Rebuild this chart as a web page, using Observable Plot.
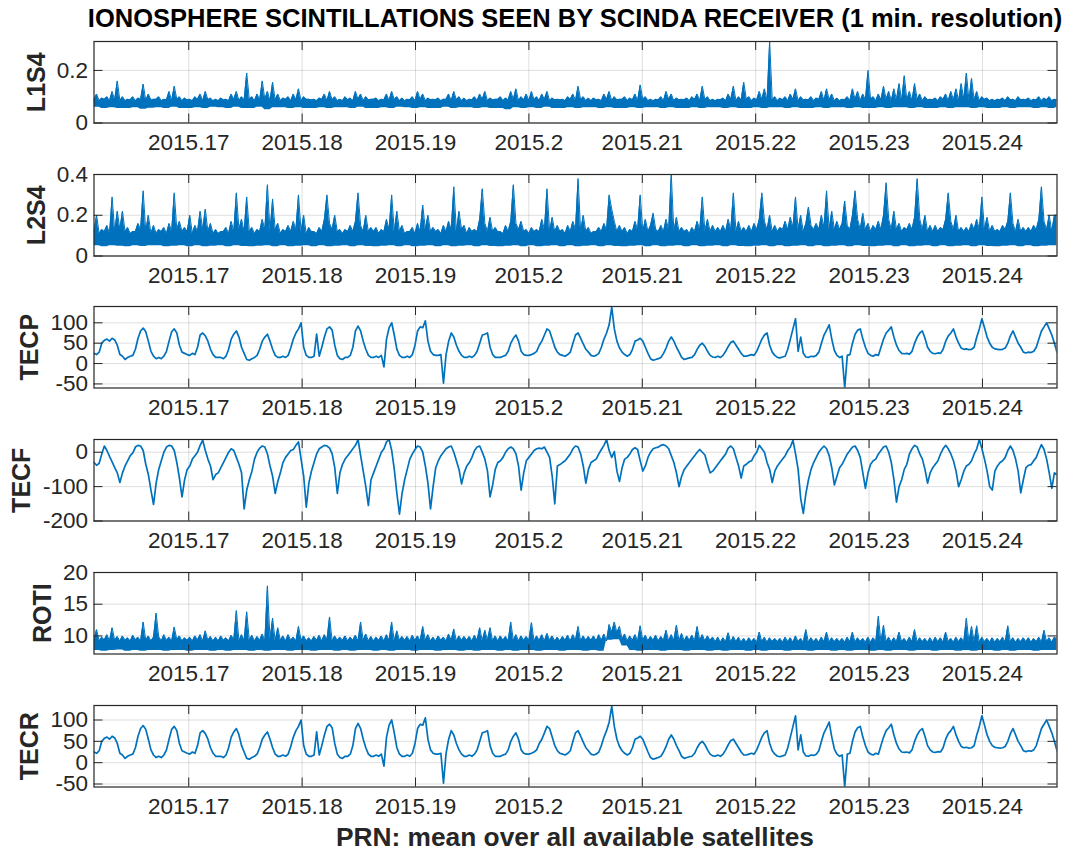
<!DOCTYPE html>
<html>
<head>
<meta charset="utf-8">
<script src="https://cdn.jsdelivr.net/npm/d3@7"></script>
<script src="https://cdn.jsdelivr.net/npm/@observablehq/plot@0.6"></script>
<style>
  html, body { margin: 0; padding: 0; background: #fff; }
  #fig { position: relative; width: 1085px; height: 853px; overflow: hidden; background: #fff;
         font-family: "Liberation Sans", Arial, Helvetica, sans-serif; color: #262626; }
  .ttl { position: absolute; left: 0; width: 1150px; text-align: center; font-weight: bold;
         font-size: 25.5px; line-height: 30px; white-space: nowrap; }
  .panel { position: absolute; left: 0; }
</style>
</head>
<body>
<div id="fig"></div>
<script>
// ---------------- data (March 2015) ----------------
// upper envelopes and TEC series: one value per 2 hours (12 per day)
// lower envelopes of the noisy series: one value per 6 hours (4 per day)
const startYear = 2015 + 59 / 365;      // 1 March 2015
const endYear = 2015 + 90 / 365;        // 1 April 2015
const sampleStep = (2 / 24) / 365;      // 2 hours in years

const xTicks = [2015.17, 2015.18, 2015.19, 2015.2, 2015.21, 2015.22, 2015.23, 2015.24];
const xTickLabels = ["2015.17", "2015.18", "2015.19", "2015.2", "2015.21", "2015.22", "2015.23", "2015.24"];

const l1s4Ticks = [0, 0.2];
const l2s4Ticks = [0, 0.2, 0.4];
const tecpTicks = [-50, 0, 50, 100];
const tecfTicks = [-200, -100, 0];
const rotiTicks = [10, 15, 20];
const tecrTicks = [-50, 0, 50, 100];

const l1s4Max = [
.088,.11,.085,.095,.09,.1,.085,.12,.088,.16,.085,.1,
.085,.09,.088,.1,.085,.095,.09,.148,.085,.11,.088,.09,
.09,.1,.085,.09,.088,.12,.085,.14,.09,.1,.085,.095,
.088,.09,.085,.1,.09,.11,.085,.12,.088,.095,.085,.09,
.085,.095,.088,.09,.085,.11,.09,.12,.085,.1,.088,.19,
.09,.1,.085,.11,.088,.16,.09,.12,.085,.155,.088,.11,
.085,.095,.09,.1,.085,.11,.088,.13,.085,.1,.09,.09,
.088,.09,.085,.095,.09,.11,.085,.12,.088,.1,.085,.09,
.085,.1,.088,.095,.085,.12,.09,.11,.085,.1,.088,.09,
.09,.095,.085,.09,.088,.11,.085,.12,.09,.1,.085,.095,
.085,.09,.088,.1,.085,.12,.09,.11,.085,.095,.088,.09,
.088,.095,.085,.09,.09,.11,.085,.12,.088,.1,.085,.095,
.085,.09,.088,.1,.085,.11,.09,.12,.085,.095,.088,.09,
.09,.1,.085,.095,.088,.12,.09,.13,.085,.1,.088,.11,
.085,.12,.088,.1,.085,.11,.09,.12,.085,.095,.088,.09,
.088,.09,.085,.1,.09,.11,.085,.14,.088,.1,.085,.095,
.085,.095,.088,.09,.085,.11,.09,.12,.085,.1,.088,.09,
.09,.1,.085,.095,.088,.11,.085,.145,.09,.1,.085,.09,
.085,.09,.088,.1,.085,.12,.09,.11,.085,.095,.088,.09,
.088,.095,.085,.1,.09,.11,.085,.14,.088,.1,.085,.09,
.085,.09,.088,.095,.085,.11,.09,.14,.085,.1,.088,.155,
.09,.1,.085,.095,.088,.12,.09,.13,.085,.31,.088,.1,
.085,.095,.088,.1,.085,.11,.09,.13,.085,.1,.088,.09,
.088,.1,.085,.095,.09,.12,.085,.13,.088,.11,.085,.095,
.085,.09,.088,.1,.085,.13,.09,.12,.085,.11,.088,.2,
.09,.1,.085,.11,.088,.14,.09,.12,.085,.13,.088,.15,
.085,.18,.088,.12,.085,.15,.09,.11,.085,.1,.088,.09,
.088,.095,.085,.1,.09,.11,.085,.12,.088,.13,.085,.15,
.09,.19,.085,.17,.088,.12,.085,.1,.09,.095,.085,.09,
.085,.09,.088,.095,.085,.1,.088,.09,.085,.1,.088,.09,
.088,.095,.085,.09,.088,.1,.085,.095,.088,.1,.085,.09,
.088];
const l1s4Min = [
.06,.055,.058,.055, .055,.058,.052,.056, .058,.055,.06,.055, .055,.058,.055,.06,
.058,.055,.06,.055, .055,.06,.05,.058, .058,.055,.058,.055, .055,.058,.055,.058,
.058,.055,.06,.055, .055,.058,.055,.06, .058,.055,.058,.055, .055,.06,.055,.058,
.058,.055,.058,.055, .055,.05,.058,.055, .058,.055,.06,.055, .055,.058,.055,.058,
.058,.055,.058,.055, .055,.058,.055,.058, .058,.055,.058,.055, .055,.058,.055,.058,
.058,.055,.058,.055, .055,.058,.055,.058, .058,.055,.058,.055, .055,.058,.055,.058,
.058,.055,.058,.055, .055,.058,.055,.058, .058,.055,.058,.055, .055,.058,.055,.058,
.058,.055,.058,.055, .055,.058,.055,.058, .058,.055,.058,.055,
.06];

const l2s4Max = [
.12,.2,.11,.13,.12,.15,.11,.29,.12,.22,.13,.22,
.12,.14,.11,.12,.12,.16,.13,.32,.12,.2,.11,.15,
.11,.13,.12,.14,.11,.16,.12,.31,.13,.17,.12,.14,
.12,.2,.11,.15,.12,.22,.13,.23,.12,.16,.11,.13,
.11,.12,.12,.14,.11,.17,.12,.31,.13,.18,.12,.29,
.12,.14,.11,.13,.12,.18,.13,.35,.12,.28,.13,.16,
.11,.13,.12,.15,.12,.17,.13,.3,.12,.2,.11,.14,
.12,.12,.11,.14,.12,.18,.3,.16,.13,.2,.12,.13,
.11,.13,.12,.15,.12,.17,.31,.15,.12,.2,.12,.14,
.12,.14,.11,.13,.12,.18,.13,.3,.12,.22,.12,.15,
.11,.12,.12,.14,.11,.16,.12,.25,.13,.2,.12,.14,
.12,.13,.11,.15,.12,.17,.13,.34,.12,.22,.13,.15,
.11,.14,.12,.13,.12,.18,.33,.16,.12,.19,.12,.14,
.12,.12,.11,.15,.12,.17,.35,.16,.13,.17,.12,.13,
.11,.14,.12,.13,.12,.18,.13,.33,.12,.19,.12,.15,
.12,.13,.11,.15,.12,.17,.13,.38,.12,.2,.12,.14,
.11,.12,.12,.14,.12,.16,.13,.3,.23,.17,.12,.15,
.12,.14,.11,.13,.12,.17,.13,.3,.12,.18,.12,.15,
.21,.13,.12,.15,.12,.18,.13,.4,.12,.19,.12,.14,
.12,.13,.11,.14,.12,.17,.13,.29,.12,.18,.12,.15,
.12,.14,.12,.15,.12,.18,.13,.31,.12,.17,.12,.14,
.12,.15,.12,.16,.13,.18,.31,.17,.13,.2,.12,.15,
.12,.14,.13,.17,.13,.19,.14,.29,.13,.2,.12,.16,
.24,.15,.13,.16,.13,.2,.14,.32,.13,.22,.13,.17,
.13,.16,.27,.15,.13,.2,.32,.18,.13,.21,.13,.16,
.12,.15,.13,.17,.13,.2,.36,.18,.13,.22,.13,.16,
.12,.14,.13,.16,.13,.19,.38,.18,.13,.2,.12,.15,
.12,.15,.12,.14,.13,.18,.31,.17,.13,.2,.12,.14,
.12,.14,.12,.16,.13,.18,.13,.29,.13,.19,.12,.15,
.12,.13,.12,.15,.13,.17,.31,.16,.12,.18,.12,.14,
.12,.14,.12,.15,.13,.18,.34,.17,.13,.2,.12,.2,
.2];
const l2s4Min = [
.05,.045,.05,.048, .045,.05,.047,.05, .05,.045,.048,.05, .045,.05,.045,.048,
.05,.045,.05,.047, .045,.048,.05,.045, .05,.045,.048,.05, .045,.05,.045,.048,
.05,.045,.05,.047, .045,.048,.05,.045, .05,.045,.048,.05, .045,.05,.045,.048,
.05,.045,.05,.047, .045,.048,.05,.045, .05,.045,.048,.05, .045,.05,.045,.048,
.05,.045,.05,.047, .045,.048,.05,.045, .05,.045,.048,.05, .045,.05,.045,.048,
.05,.045,.05,.047, .045,.048,.05,.045, .05,.045,.048,.05, .045,.05,.045,.048,
.05,.045,.05,.047, .045,.048,.05,.045, .05,.045,.048,.05, .045,.05,.045,.048,
.05,.045,.05,.047, .045,.048,.05,.045, .05,.045,.048,.05,
.05];

const tecp = [
25,22,28,50,57,60,55,62,58,45,22,18,
10,15,18,20,35,62,80,87,78,55,30,18,
12,15,12,18,30,55,78,85,75,45,28,25,
22,20,25,22,40,70,75,68,55,35,22,15,
15,15,12,18,35,60,72,80,65,40,25,10,
8,12,15,20,35,55,65,72,55,35,20,15,
15,18,15,20,38,60,75,85,100,40,20,15,
15,18,72,18,40,65,85,90,82,45,20,12,
10,15,15,20,40,80,92,80,55,35,20,15,
15,18,15,20,-8,60,88,100,70,35,20,15,
15,18,15,22,45,80,90,88,105,55,30,22,
20,20,22,-48,22,55,75,65,45,30,20,15,
15,18,15,20,30,50,70,72,75,40,22,15,
15,15,18,20,30,50,62,70,55,30,22,20,
20,22,25,30,45,55,70,85,80,60,40,28,
22,20,18,22,28,50,70,75,62,48,35,28,
20,18,20,25,40,60,75,95,138,85,55,38,
28,22,18,22,35,55,58,62,55,40,25,12,
8,10,12,15,25,38,55,65,55,40,28,15,
10,12,14,15,22,35,45,50,42,30,20,16,
15,18,15,20,30,42,52,55,45,35,25,18,
18,20,22,20,30,45,60,70,75,45,28,20,
15,14,16,18,35,60,85,110,30,65,25,16,
15,18,17,20,28,50,70,82,95,60,32,20,
15,18,-60,20,22,50,72,82,85,60,40,25,
20,18,22,20,40,60,75,82,90,65,45,32,
25,24,25,23,30,50,65,75,80,62,40,30,
25,24,26,25,35,55,68,75,85,65,50,38,
35,36,34,35,40,65,85,110,88,65,50,40,
36,35,34,35,38,50,68,80,65,50,40,28,
26,28,27,30,40,60,80,90,100,85,70,50,
28];

const tecf = [
-30,-38,-32,-5,18,5,-12,-28,-45,-60,-88,-60,
-40,-25,-10,-2,15,20,18,5,-35,-65,-110,-152,
-90,-50,-25,0,15,20,18,5,-30,-75,-130,-80,
-50,-40,-20,-10,0,20,35,5,-20,-40,-80,-65,
-60,-45,-30,-15,0,10,5,-15,-35,-60,-165,-110,
-80,-55,-20,0,12,18,15,-5,-40,-70,-120,-85,
-60,-30,-15,-5,5,8,20,30,-20,-70,-160,-90,
-55,-30,-5,10,15,20,18,12,-5,-45,-120,-60,
-35,-20,-10,0,10,20,37,-10,-55,-100,-155,-80,
-60,-40,-20,0,10,30,37,5,-50,-120,-180,-120,
-80,-50,-20,-5,8,18,15,0,-40,-90,-165,-100,
-45,-25,-10,0,10,15,18,0,-25,-50,-92,-60,
-40,-30,-15,5,15,18,0,-20,-55,-130,-95,-50,
-30,-25,-15,0,10,15,10,-5,-40,-110,-60,-25,
-15,-5,5,10,12,10,15,0,-15,-70,-150,-40,
-36,-30,-25,-15,-5,10,18,15,-5,-40,-90,-50,
-30,-25,-20,-5,8,20,37,5,-15,2,-55,-85,
-45,-20,-15,-5,8,13,8,-25,-55,-40,-15,0,
10,13,15,20,22,18,10,-10,-30,-60,-100,-70,
-50,-40,-30,-20,-10,0,8,0,-8,-36,-60,-55,
-45,-35,-25,-15,-5,12,18,10,-15,-40,-75,-40,
-35,-28,-25,-10,0,20,10,0,-30,-50,-88,-55,
-40,-30,-20,-10,5,15,35,-5,-50,-135,-178,-120,
-80,-50,-30,-15,0,10,18,10,-10,-45,-95,-70,
-45,-35,-20,-5,5,15,18,5,-15,-60,-105,-60,
-35,-25,-20,-5,5,15,18,0,-30,-80,-145,-100,
-80,-50,-35,-5,10,20,15,-5,-20,-50,-90,-60,
-45,-35,-25,-5,10,20,10,-5,-25,-55,-100,-80,
-55,-40,-35,-25,-5,10,37,10,-20,-55,-100,-110,
-55,-40,-30,-25,-15,5,18,5,-20,-55,-118,-80,
-45,-38,-36,-25,-15,5,22,8,-20,-60,-105,-60,
-65];

const rotiMax = [
9.3,11,9.2,9.8,9.4,10.2,9.2,11.3,9.3,9.9,9.2,10,
9.3,9.7,9.2,10.1,9.4,9.8,9.2,12.2,9.3,10,9.2,9.8,
13.6,9.9,9.2,10.2,9.3,9.8,9.2,11.4,9.4,10,9.2,9.7,
9.3,9.8,9.2,10,9.4,10.2,9.2,10.8,9.3,9.9,9.2,9.8,
9.2,10,9.3,9.7,9.2,10.1,9.4,14,9.2,10.2,9.3,13.8,
9.3,10.1,9.2,9.9,9.3,10.3,9.2,17.9,9.4,12.8,9.2,11.3,
9.3,10,9.2,10.2,9.3,9.8,9.2,11.5,9.3,10,9.2,9.7,
9.2,9.9,9.3,10.1,9.2,10.2,9.4,13,9.2,10,9.3,9.8,
9.3,10,9.2,9.8,9.3,10.1,9.2,12.2,9.3,10.3,9.2,9.9,
9.2,9.8,9.3,10,9.2,10.2,9.3,12.2,9.2,10.8,9.3,9.9,
9.3,9.9,9.2,10.1,9.3,10,9.2,11.5,9.3,10.2,9.2,9.8,
9.2,10,9.3,9.8,9.2,10.3,9.3,11.1,9.2,10,9.3,9.9,
9.3,9.9,9.2,10.1,9.3,11.3,9.2,10.9,9.3,11.3,9.2,10,
9.2,10,9.3,9.9,9.2,12.2,9.3,10.2,9.2,10,9.3,9.9,
9.3,12.1,9.2,10,9.3,10.2,9.2,10.4,9.3,10,9.2,9.8,
9.2,9.9,9.3,10.1,9.2,10.2,9.3,11.5,9.2,10,9.3,9.9,
9.3,10,9.2,10.2,9.3,10.3,9.2,11.8,10.6,12.2,10.5,11.5,
9.5,10.3,9.2,10,9.3,10.2,9.2,11.6,9.3,10.1,9.2,9.9,
9.3,10.1,9.2,9.9,9.3,10.9,9.2,10.2,9.3,11.7,9.2,10.4,
9.2,10,9.3,10.1,9.2,11.5,9.3,10.2,9.2,10,9.3,9.8,
9.1,9.8,9.0,9.7,9.1,10.5,9.0,9.9,9.1,9.8,9.0,9.6,
9.0,9.7,9.1,9.6,9.0,10.6,9.1,9.8,9.0,9.7,9.1,9.6,
9.1,9.6,9.0,9.8,9.1,9.7,9.0,10,9.1,9.6,9.0,11,
9.0,9.7,9.1,9.6,9.0,9.8,9.1,10.6,9.0,9.7,9.1,9.6,
9.1,9.6,9.0,9.8,9.1,10.6,9.0,9.7,9.1,9.6,9.0,9.8,
9.0,9.7,9.1,13.1,9.0,11.7,9.1,9.8,9.0,9.7,9.1,10.6,
9.1,9.6,9.0,9.8,9.1,11,9.0,9.7,9.1,9.6,9.0,9.7,
9.0,9.8,9.1,9.7,9.0,10.6,9.1,9.6,9.0,9.8,9.1,9.7,
9.1,12.8,9.0,11.5,9.1,11.6,9.0,9.8,9.1,9.6,9.0,9.7,
9.0,9.6,9.1,9.8,9.0,11.6,9.1,9.7,9.0,9.6,9.1,9.7,
9.1,9.7,9.0,9.6,9.1,9.8,9.0,10.9,9.1,9.7,9.0,9.8,
9.5];
const rotiMin = [
7.7,7.6,7.7,7.8, 7.6,7.7,7.6,7.7, 7.7,7.6,7.7,7.7, 7.6,7.7,7.7,7.6,
7.7,7.6,7.7,7.7, 7.6,7.7,7.6,7.7, 7.7,7.6,7.7,7.7, 7.6,7.7,7.7,7.6,
7.7,7.6,7.7,7.7, 7.6,7.7,7.6,7.7, 7.7,7.6,7.7,7.7, 7.6,7.7,7.7,7.6,
7.7,7.6,7.7,7.7, 7.6,7.7,7.6,7.7, 7.7,7.6,7.7,7.7, 7.6,7.7,7.7,7.6,
7.7,7.6,9.3,9.4, 8.4,7.7,7.6,7.7, 7.7,7.6,7.7,7.7, 7.6,7.7,7.7,7.6,
7.7,7.6,7.7,7.7, 7.6,7.7,7.6,7.7, 7.7,7.6,7.7,7.7, 7.6,7.7,7.7,7.6,
7.7,7.6,7.7,7.7, 7.6,7.7,7.6,7.7, 7.7,7.6,7.7,7.7, 7.6,7.7,7.7,7.6,
7.7,7.6,7.7,7.7, 7.6,7.7,7.6,7.7, 7.7,7.6,7.7,7.7,
7.7];

const tecr = [
25,22,28,50,57,60,55,62,58,45,22,18,
10,15,18,20,35,62,80,87,78,55,30,18,
12,15,12,18,30,55,78,85,75,45,28,25,
22,20,25,22,40,70,75,68,55,35,22,15,
15,15,12,18,35,60,72,80,65,40,25,10,
8,12,15,20,35,55,65,72,55,35,20,15,
15,18,15,20,38,60,75,85,100,40,20,15,
15,18,72,18,40,65,85,90,82,45,20,12,
10,15,15,20,40,80,92,80,55,35,20,15,
15,18,15,20,-8,60,88,100,70,35,20,15,
15,18,15,22,45,80,90,88,105,55,30,22,
20,20,22,-48,22,55,75,65,45,30,20,15,
15,18,15,20,30,50,70,72,75,40,22,15,
15,15,18,20,30,50,62,70,55,30,22,20,
20,22,25,30,45,55,70,85,80,60,40,28,
22,20,18,22,28,50,70,75,62,48,35,28,
20,18,20,25,40,60,75,95,132,85,55,38,
28,22,18,22,35,55,58,62,55,40,25,12,
8,10,12,15,25,38,55,65,55,40,28,15,
10,12,14,15,22,35,45,50,42,30,20,16,
15,18,15,20,30,42,52,55,45,35,25,18,
18,20,22,20,30,45,60,70,75,45,28,20,
15,14,16,18,35,60,85,110,30,65,25,16,
15,18,17,20,28,50,70,82,95,60,32,20,
15,18,-57,20,22,50,72,82,85,60,40,25,
20,18,22,20,40,60,75,82,90,65,45,32,
25,24,25,23,30,50,65,75,80,62,40,30,
25,24,26,25,35,55,68,75,85,65,50,38,
35,36,34,35,40,65,85,110,88,65,50,40,
36,35,34,35,38,50,68,80,65,50,40,28,
26,28,27,30,40,60,80,90,100,85,70,50,
28];

// ---------------- layout ----------------
const fig = document.getElementById("fig");
const W = 1085, left = 93.5, right = 1056.5;
const plotH = 81.5, mTop = 10, mBot = 40, tickLen = 9;
const font = '"Liberation Sans", Arial, Helvetica, sans-serif';
const lineColor = "#0072BD", axisColor = "#262626";

const panels = [
  {name: "L1S4", values: l1s4Max, min: l1s4Min, domain: [0, 0.31],  ticks: l1s4Ticks, top: 41,    labelX: 36.5},
  {name: "L2S4", values: l2s4Max, min: l2s4Min, domain: [0, 0.4],   ticks: l2s4Ticks, top: 173.5, labelX: 36.5},
  {name: "TECP", values: tecp,                  domain: [-60, 140], ticks: tecpTicks, top: 306,   labelX: 29.5},
  {name: "TECF", values: tecf,                  domain: [-200, 37], ticks: tecfTicks, top: 438.5, labelX: 21.5},
  {name: "ROTI", values: rotiMax, min: rotiMin, domain: [7.15, 20], ticks: rotiTicks, top: 571.5, labelX: 42},
  {name: "TECR", values: tecr,                  domain: [-57, 134], ticks: tecrTicks, top: 704.5, labelX: 29.5}
];

const title = document.createElement("div");
title.className = "ttl";
title.style.top = "3px";
title.style.color = "#000";
title.textContent = "IONOSPHERE SCINTILLATIONS SEEN BY SCINDA RECEIVER (1 min. resolution)";
fig.appendChild(title);

const plotW = right - left;
const timeOf = (d, i) => startYear + i * sampleStep;
for (const p of panels) {
  const dataMarks = [];
  if (p.min) {
    dataMarks.push(Plot.areaY(p.values, {x: timeOf, y1: (d, i) => p.min[Math.floor(i / 3)], y2: d => d,
                                         fill: lineColor, clip: true}));
    dataMarks.push(Plot.lineY(p.values, {x: timeOf, y: d => d, stroke: lineColor, strokeWidth: 1, clip: true}));
  } else {
    dataMarks.push(Plot.lineY(p.values, {x: timeOf, y: d => d, stroke: lineColor, strokeWidth: 1.7, clip: true}));
  }
  const svg = Plot.plot({
    width: W,
    height: mTop + plotH + mBot,
    marginLeft: left,
    marginRight: W - right,
    marginTop: mTop,
    marginBottom: mBot,
    style: {fontFamily: font, fontSize: "22.5px", color: axisColor, background: "transparent", overflow: "visible"},
    x: {domain: [startYear, endYear], label: null},
    y: {domain: p.domain, label: null},
    marks: [
      Plot.gridX(xTicks, {stroke: axisColor, strokeOpacity: 0.15, strokeWidth: 1}),
      Plot.gridY(p.ticks, {stroke: axisColor, strokeOpacity: 0.15, strokeWidth: 1}),
      ...dataMarks,
      Plot.ruleX(xTicks, {insetTop: plotH - tickLen, stroke: axisColor, strokeWidth: 1}),
      Plot.ruleX(xTicks, {insetBottom: plotH - tickLen, stroke: axisColor, strokeWidth: 1}),
      Plot.ruleY(p.ticks, {insetRight: plotW - tickLen, stroke: axisColor, strokeWidth: 1}),
      Plot.ruleY(p.ticks, {insetLeft: plotW - tickLen, stroke: axisColor, strokeWidth: 1}),
      Plot.frame({stroke: axisColor, strokeWidth: 1.2}),
      Plot.axisX(xTicks, {tickSize: 0, tickPadding: 11,
                          tickFormat: d => xTickLabels[xTicks.indexOf(d)]}),
      Plot.axisY(p.ticks, {tickSize: 0, tickPadding: 6, tickFormat: d => String(d)}),
      Plot.text([p.name], {frameAnchor: "left", dx: p.labelX - left, rotate: -90, textAnchor: "middle",
                           fontWeight: "bold", fontSize: 25, fill: axisColor})
    ]
  });
  svg.classList.add("panel");
  svg.style.top = (p.top - mTop) + "px";
  fig.appendChild(svg);
}

const xlab = document.createElement("div");
xlab.className = "ttl";
xlab.style.top = "822px";
xlab.style.fontSize = "26.3px";
xlab.textContent = "PRN: mean over all available satellites";
fig.appendChild(xlab);
</script>
</body>
</html>
